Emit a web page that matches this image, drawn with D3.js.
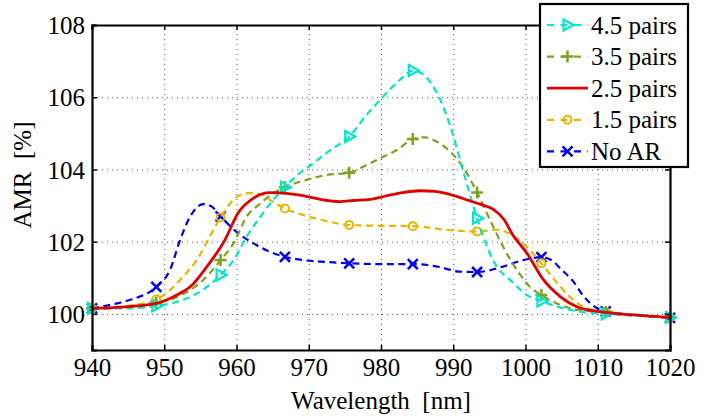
<!DOCTYPE html>
<html>
<head>
<meta charset="utf-8">
<script src="https://cdn.jsdelivr.net/npm/d3@7"></script>
<style>
  body { margin: 0; background: #fff; }
  svg text { white-space: pre; }
</style>
</head>
<body>
<svg id="chart" width="702" height="416"></svg>
<script>
// wavelengths where the markers sit
const markWl = [940, 948.9, 957.8, 966.7, 975.6, 984.4, 993.3, 1002.2, 1011.1, 1020];

// No AR (blue)
const noArWl  = [940, 942.5, 945.3, 948.9, 950.8, 952.2, 953.6, 955.4, 956.5, 957.8, 960.5, 962.3, 964.6, 966.7, 969.2, 971.6, 975.6, 980, 984.4, 988, 990.9, 993.3, 996.9, 999.7, 1002.2, 1003.5, 1005, 1006.6, 1008, 1009.8, 1011.1, 1015, 1020];
const noArVal = [100.15, 100.25, 100.39, 100.75, 101.22, 102.05, 102.7, 103.04, 102.98, 102.7, 102.19, 101.96, 101.72, 101.58, 101.49, 101.45, 101.4, 101.38, 101.38, 101.3, 101.17, 101.16, 101.31, 101.49, 101.57, 101.5, 101.22, 100.9, 100.5, 100.17, 100.07, 99.97, 99.89];
const noArMarks = [100.15, 100.75, 102.7, 101.58, 101.4, 101.38, 101.16, 101.57, 100.07, 99.89];

// 1.5 pairs (gold)
const p15Wl  = [940, 944, 948.9, 950.8, 952.6, 954.5, 956.3, 957.8, 959.6, 960.5, 962, 963.5, 964.6, 966.7, 969.2, 972.9, 975.6, 980, 984.4, 989, 993.3, 996, 998, 1000.2, 1002.2, 1004, 1006, 1008, 1011.1, 1015, 1020];
const p15Val = [100.15, 100.2, 100.4, 100.66, 101.03, 101.49, 102.14, 102.67, 103.16, 103.29, 103.35, 103.3, 103.16, 102.92, 102.74, 102.55, 102.46, 102.44, 102.43, 102.33, 102.28, 102.33, 102.2, 101.85, 101.4, 100.95, 100.5, 100.2, 100.05, 99.97, 99.9];
const p15Marks = [100.15, 100.4, 102.67, 102.92, 102.46, 102.43, 102.28, 101.4, 100.05, 99.9];

// 2.5 pairs (red, no markers)
const p25Wl  = [940, 945, 948.9, 952, 953.6, 955.9, 958.4, 960.2, 962.3, 964.6, 966.9, 968.8, 971.6, 974.3, 976.2, 978.5, 981, 983, 985.4, 987.5, 990, 992, 993.7, 995.5, 997, 998.2, 1000.2, 1002.5, 1004.8, 1007.1, 1010.3, 1015, 1020];
const p25Val = [100.15, 100.2, 100.29, 100.55, 100.75, 101.31, 102.05, 102.79, 103.2, 103.36, 103.34, 103.29, 103.17, 103.11, 103.14, 103.17, 103.28, 103.36, 103.41, 103.39, 103.28, 103.15, 103.04, 102.9, 102.62, 102.2, 101.68, 100.94, 100.48, 100.2, 100.06, 99.97, 99.9];

// 3.5 pairs (green)
const p35Wl  = [940, 944, 948.9, 951.3, 953.6, 955.4, 957.8, 959.6, 961.4, 963.3, 965.1, 966.7, 969.7, 972.5, 975.6, 978, 979.9, 982.2, 984.4, 986.1, 987.7, 989.6, 991.4, 993.3, 995.1, 996.9, 998.8, 1000.6, 1002.2, 1004.8, 1007.1, 1011.1, 1015, 1020];
const p35Val = [100.15, 100.17, 100.3, 100.43, 100.66, 100.94, 101.49, 101.96, 102.69, 103.06, 103.34, 103.51, 103.71, 103.85, 103.91, 104.12, 104.31, 104.54, 104.84, 104.89, 104.77, 104.49, 104.05, 103.36, 102.6, 101.86, 101.22, 100.75, 100.52, 100.25, 100.11, 100.05, 99.97, 99.9];
const p35Marks = [100.15, 100.3, 101.49, 103.51, 103.91, 104.84, 103.36, 100.52, 100.05, 99.9];

// 4.5 pairs (cyan)
const p45Wl  = [940, 944, 948.9, 952, 955, 957.8, 959.6, 961.4, 963.3, 965.1, 966.7, 968.3, 970, 972.9, 975.6, 978, 979.9, 982.6, 984.4, 986, 988.2, 989.6, 991.2, 992, 993.3, 995.5, 998.3, 1000.2, 1002.2, 1004.4, 1008, 1011.1, 1015, 1020];
const p45Val = [100.15, 100.15, 100.22, 100.35, 100.62, 101.08, 101.49, 102.14, 102.69, 103.16, 103.51, 103.82, 104.08, 104.52, 104.91, 105.51, 105.93, 106.48, 106.74, 106.6, 105.93, 105.19, 104.08, 103.52, 102.65, 101.49, 100.86, 100.52, 100.36, 100.2, 100.05, 100.0, 99.95, 99.9];
const p45Marks = [100.15, 100.22, 101.08, 103.51, 104.91, 106.74, 102.65, 100.36, 100.0, 99.9];

const xTicks = [940, 950, 960, 970, 980, 990, 1000, 1010, 1020];
const yTicks = [100, 102, 104, 106, 108];

const series = [
  { name: "4.5 pairs", wl: p45Wl, val: p45Val, marks: p45Marks, color: "#00e6c8", marker: "tri", dash: true },
  { name: "3.5 pairs", wl: p35Wl, val: p35Val, marks: p35Marks, color: "#80a020", marker: "plus", dash: true },
  { name: "2.5 pairs", wl: p25Wl, val: p25Val, marks: null, color: "#e00000", marker: null, dash: false },
  { name: "1.5 pairs", wl: p15Wl, val: p15Val, marks: p15Marks, color: "#ebb400", marker: "circle", dash: true },
  { name: "No AR", wl: noArWl, val: noArVal, marks: noArMarks, color: "#0000f0", marker: "x", dash: true }
];

const svg = d3.select("#chart");
const margin = { top: 25, right: 32, bottom: 66, left: 92 };
const width = +svg.attr("width");
const height = +svg.attr("height");
const serif = "'Liberation Serif', 'Times New Roman', Times, 'Nimbus Roman', 'Noto Serif', 'DejaVu Serif', serif";

const x = d3.scaleLinear().domain([940, 1020]).range([margin.left, width - margin.right]);
const y = d3.scaleLinear().domain([99, 108]).range([height - margin.bottom, margin.top]);

// grid lines
svg.append("g")
  .attr("class", "grid")
  .attr("transform", `translate(0,${height - margin.bottom})`)
  .call(d3.axisBottom(x).tickValues(xTicks)
    .tickSize(-(height - margin.top - margin.bottom))
    .tickFormat(""));
svg.append("g")
  .attr("class", "grid")
  .attr("transform", `translate(${margin.left},0)`)
  .call(d3.axisLeft(y).tickValues(yTicks)
    .tickSize(-(width - margin.left - margin.right))
    .tickFormat(""));
svg.selectAll(".grid line")
  .attr("stroke", "#555")
  .attr("stroke-width", 1)
  .attr("stroke-dasharray", "1,4");
svg.selectAll(".grid path").attr("stroke-width", 0);

// curves
const line = d3.line().curve(d3.curveMonotoneX);

function drawMarker(g, type, cx, cy, color) {
  if (type === "tri") {
    g.append("path")
      .attr("d", `M${cx - 4},${cy - 5.5}L${cx + 6},${cy}L${cx - 4},${cy + 5.5}Z`)
      .attr("fill", "none").attr("stroke", color).attr("stroke-width", 2.2);
  } else if (type === "plus") {
    g.append("path")
      .attr("d", `M${cx - 6},${cy}L${cx + 6},${cy}M${cx},${cy - 6}L${cx},${cy + 6}`)
      .attr("stroke", color).attr("stroke-width", 2.5);
  } else if (type === "circle") {
    g.append("circle")
      .attr("cx", cx).attr("cy", cy).attr("r", 4)
      .attr("fill", "none").attr("stroke", color).attr("stroke-width", 2);
  } else if (type === "x") {
    g.append("path")
      .attr("d", `M${cx - 5},${cy - 5}L${cx + 5},${cy + 5}M${cx - 5},${cy + 5}L${cx + 5},${cy - 5}`)
      .attr("stroke", color).attr("stroke-width", 2.5);
  }
}

const drawOrder = [4, 3, 1, 0, 2];
drawOrder.forEach(i => {
  const s = series[i];
  const pts = s.wl.map((w, j) => [x(w), y(s.val[j])]);
  svg.append("path")
    .attr("d", line(pts))
    .attr("fill", "none")
    .attr("stroke", s.color)
    .attr("stroke-width", s.dash ? 2.2 : 2.8)
    .attr("stroke-dasharray", s.dash ? "7,4.5" : null);
  if (s.marks) {
    const mg = svg.append("g");
    markWl.forEach((w, j) => drawMarker(mg, s.marker, x(w), y(s.marks[j]), s.color));
  }
});

// axes box with inward ticks
const bottomAxis = svg.append("g")
  .attr("transform", `translate(0,${height - margin.bottom})`)
  .call(d3.axisBottom(x).tickValues(xTicks).tickSize(-5).tickPadding(8).tickFormat(d3.format("d")));
const topAxis = svg.append("g")
  .attr("transform", `translate(0,${margin.top})`)
  .call(d3.axisTop(x).tickValues(xTicks).tickSize(-5).tickFormat(""));
const leftAxis = svg.append("g")
  .attr("transform", `translate(${margin.left},0)`)
  .call(d3.axisLeft(y).tickValues(yTicks).tickSize(-5).tickPadding(7));
const rightAxis = svg.append("g")
  .attr("transform", `translate(${width - margin.right},0)`)
  .call(d3.axisRight(y).tickValues(yTicks).tickSize(-5).tickFormat(""));

[bottomAxis, topAxis, leftAxis, rightAxis].forEach(a => {
  a.attr("font-family", serif);
  a.select(".domain").attr("stroke", "#000").attr("stroke-width", 2.2);
  a.selectAll(".tick line").attr("stroke", "#000").attr("stroke-width", 1.5);
  a.selectAll("text")
    .attr("fill", "#000")
    .attr("font-family", serif)
    .attr("font-size", 25);
});
bottomAxis.selectAll("text").attr("dy", "0.72em");
leftAxis.selectAll("text").attr("dy", "0.35em");

// axis labels
svg.append("text")
  .attr("x", (margin.left + width - margin.right) / 2)
  .attr("y", 409)
  .attr("text-anchor", "middle")
  .attr("font-family", serif)
  .attr("font-size", 25)
  .text("Wavelength  [nm]");

svg.append("text")
  .attr("transform", "rotate(-90)")
  .attr("x", -175)
  .attr("y", 31)
  .attr("text-anchor", "middle")
  .attr("font-family", serif)
  .attr("font-size", 25)
  .text("AMR  [%]");

// legend
const legend = svg.append("g").attr("transform", "translate(540,4)");
legend.append("rect")
  .attr("width", 148).attr("height", 163)
  .attr("fill", "#fff").attr("stroke", "#000").attr("stroke-width", 2.2);

series.forEach((s, i) => {
  const cy = 21 + i * 31.6;
  const row = legend.append("g");
  row.append("line")
    .attr("x1", 7).attr("x2", 48).attr("y1", cy).attr("y2", cy)
    .attr("stroke", s.color)
    .attr("stroke-width", s.dash ? 2.2 : 2.8)
    .attr("stroke-dasharray", s.dash ? "7,6.5" : null);
  if (s.marker) drawMarker(row, s.marker, 27.5, cy, s.color);
  row.append("text")
    .attr("x", 51).attr("y", cy + 8.5)
    .attr("font-family", serif)
    .attr("font-size", 25)
    .text(s.name);
});
</script>
</body>
</html>
